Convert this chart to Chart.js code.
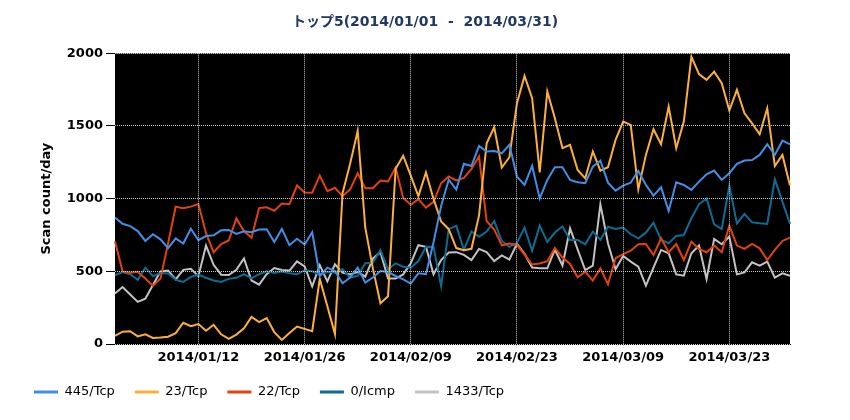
<!DOCTYPE html>
<html>
<head>
<meta charset="utf-8">
<script src="https://cdn.jsdelivr.net/npm/chart.js@4/dist/chart.umd.min.js"></script>
<style>
  html, body { margin: 0; padding: 0; background: #ffffff; }
  #wrap { width: 850px; height: 420px; }
</style>
</head>
<body>
<div id="wrap"><canvas id="c" width="850" height="420"></canvas></div>
<script>
// ---- data ----
const startDate = '2014/01/01';
const endDate = '2014/03/31';
const dates = [];
for (let d = new Date(Date.UTC(2014, 0, 1)); d <= new Date(Date.UTC(2014, 2, 31)); d.setUTCDate(d.getUTCDate() + 1)) {
  const m = String(d.getUTCMonth() + 1).padStart(2, '0');
  const dd = String(d.getUTCDate()).padStart(2, '0');
  dates.push(d.getUTCFullYear() + '/' + m + '/' + dd);
}
const xTickLabels = ['2014/01/12', '2014/01/26', '2014/02/09', '2014/02/23', '2014/03/09', '2014/03/23'];
const yTicks = [0, 500, 1000, 1500, 2000];

const seriesNames = ['445/Tcp', '23/Tcp', '22/Tcp', '0/Icmp', '1433/Tcp'];

const tcp445 = [870, 827, 811, 777, 709, 755, 720, 659, 727, 691,
  793, 714, 743, 748, 782, 785, 758, 776, 769, 788,
  790, 701, 792, 680, 724, 685, 769, 468, 525, 502,
  418, 457, 525, 422, 457, 502, 495, 468, 445, 416,
  486, 480, 700, 950, 1130, 1062, 1240, 1225, 1363, 1324,
  1328, 1312, 1370, 1152, 1094, 1225, 1002, 1129, 1216, 1216,
  1129, 1113, 1106, 1220, 1262, 1110, 1055, 1090, 1110, 1190,
  1094, 1021, 1078, 915, 1113, 1094, 1060, 1117, 1168, 1193,
  1129, 1175, 1239, 1262, 1266, 1301, 1374, 1301, 1399, 1374];

const tcp23 = [56, 85, 88, 52, 67, 42, 45, 50, 75, 146,
  122, 137, 91, 132, 67, 35, 65, 108, 186, 150,
  178, 82, 28, 75, 120, 104, 88, 448, 260, 68,
  1038, 1240, 1467, 800, 520, 280, 328, 1205, 1295, 1158,
  1017, 1180, 998, 843, 790, 660, 645, 655, 885, 1381,
  1491, 1214, 1285, 1656, 1844, 1691, 1181, 1737, 1553, 1347,
  1370, 1197, 1140, 1324, 1193, 1216, 1404, 1530, 1507, 1064,
  1301, 1477, 1374, 1633, 1347, 1530, 1977, 1857, 1817, 1874,
  1794, 1606, 1748, 1587, 1518, 1443, 1622, 1225, 1301, 1090];

const tcp22 = [705, 499, 490, 497, 450, 400, 450, 693, 944, 934,
  945, 963, 762, 631, 688, 712, 864, 777, 731, 935,
  940, 916, 967, 962, 1090, 1043, 1041, 1158, 1051, 1075,
  1017, 1064, 1175, 1072, 1072, 1124, 1118, 1215, 1004, 958,
  997, 938, 978, 1106, 1152, 1125, 1143, 1205, 1290, 845,
  787, 679, 691, 681, 615, 547, 554, 570, 661, 595,
  551, 459, 498, 436, 521, 411, 590, 619, 642, 686,
  688, 612, 727, 631, 688, 578, 704, 654, 631, 677,
  631, 814, 677, 654, 688, 658, 578, 647, 709, 732];

const icmp0 = [473, 495, 480, 442, 525, 467, 488, 485, 442, 427,
  462, 477, 456, 437, 427, 448, 455, 480, 452, 480,
  500, 489, 498, 486, 480, 506, 500, 475, 497, 491,
  514, 457, 468, 555, 559, 646, 514, 555, 532, 525,
  571, 669, 668, 398, 790, 813, 650, 774, 737, 774,
  845, 709, 668, 696, 801, 641, 815, 702, 767, 808,
  716, 716, 686, 773, 716, 807, 791, 801, 755, 727,
  766, 835, 716, 693, 743, 750, 865, 961, 1002, 824,
  791, 1090, 830, 895, 837, 830, 826, 1133, 980, 826];

const tcp1433 = [347, 392, 341, 290, 312, 406, 499, 506, 444, 510,
  517, 467, 677, 545, 477, 474, 511, 589, 437, 408,
  480, 523, 509, 505, 569, 534, 397, 543, 431, 548,
  491, 479, 495, 463, 587, 632, 450, 450, 479, 555,
  680, 669, 479, 578, 630, 632, 613, 577, 654, 633,
  570, 609, 581, 691, 621, 526, 521, 521, 650, 540,
  796, 650, 509, 539, 961, 693, 514, 606, 567, 532,
  401, 525, 647, 624, 479, 470, 624, 677, 447, 723,
  686, 739, 479, 493, 562, 539, 567, 457, 486, 470];

const seriesValues = [tcp445, tcp23, tcp22, icmp0, tcp1433];
const seriesColors = ['#428ee6', '#fbb03b', '#e2420f', '#0e6b91', '#c3c3c3'];

// ---- chart ----
const FONT = 'DejaVu Sans';
const gridColor = '#c8c8c8';
const shownX = (i) => xTickLabels.includes(dates[i]);

const plotBg = {
  id: 'plotBg',
  beforeDraw(chart) {
    const a = chart.chartArea;
    const ctx = chart.ctx;
    ctx.save();
    ctx.fillStyle = '#000000';
    ctx.fillRect(a.left, a.top, a.right - a.left, a.bottom - a.top);
    ctx.restore();
  },
  afterDraw(chart) {
    // dotted grid on the plot area, positioned by the chart's own scales
    const a = chart.chartArea;
    const ctx = chart.ctx;
    const xs = chart.scales.x, ys = chart.scales.y;
    ctx.save();
    ctx.lineWidth = 1;
    ctx.strokeStyle = gridColor;
    ctx.setLineDash([1, 1]);
    ys.ticks.forEach(t => {
      const y = Math.round(ys.getPixelForValue(t.value) - 0.5) + 0.5;
      ctx.beginPath();
      ctx.moveTo(a.left, y);
      ctx.lineTo(a.right, y);
      ctx.stroke();
    });
    xs.ticks.forEach((t, i) => {
      if (!shownX(i)) return;
      const x = Math.round(xs.getPixelForTick(i) - 0.5) + 0.5;
      ctx.beginPath();
      ctx.moveTo(x, a.top);
      ctx.lineTo(x, a.bottom);
      ctx.stroke();
    });
    ctx.restore();
  }
};

new Chart(document.getElementById('c'), {
  type: 'line',
  data: {
    labels: dates,
    datasets: seriesNames.map((name, k) => ({
      label: name,
      data: seriesValues[k],
      borderColor: seriesColors[k],
      backgroundColor: seriesColors[k],
      borderWidth: 2,
      pointRadius: 0,
      pointHoverRadius: 0,
      tension: 0,
      fill: false
    }))
  },
  options: {
    responsive: false,
    animation: false,
    devicePixelRatio: 1,
    layout: { padding: { left: 14, right: 14, top: 0, bottom: 11.5 } },
    plugins: {
      title: {
        display: true,
        text: 'トップ5(' + startDate + '  -  ' + endDate + ')',
        color: '#1f3864',
        font: { family: FONT + ', "Noto Sans CJK JP"', size: 14, weight: 'bold', lineHeight: 1.2 },
        padding: { top: 13.6, bottom: 22.9 }
      },
      legend: {
        display: true,
        position: 'bottom',
        align: 'start',
        labels: {
          usePointStyle: true,
          pointStyle: 'line',
          pointStyleWidth: 24,
          padding: 20,
          color: '#000000',
          font: { family: FONT, size: 13 },
          generateLabels(chart) {
            const items = Chart.defaults.plugins.legend.labels.generateLabels(chart);
            items.forEach(it => { it.lineWidth = 3; it.pointStyle = 'line'; });
            return items;
          }
        }
      },
      tooltip: { enabled: false }
    },
    scales: {
      x: {
        type: 'category',
        offset: false,
        afterFit(scale) { scale.height = 21.5; },
        border: { display: true, color: '#000000' },
        grid: {
          drawOnChartArea: false,
          color: (c) => shownX(c.index) ? gridColor : 'rgba(0,0,0,0)',
          tickColor: (c) => shownX(c.index) ? gridColor : 'rgba(0,0,0,0)',
          tickBorderDash: [1, 1],
          tickLength: 5,
          lineWidth: 1
        },
        ticks: {
          autoSkip: false,
          maxRotation: 0,
          minRotation: 0,
          padding: 1,
          color: '#000000',
          font: { family: FONT, size: 13, weight: 'bold' },
          callback(value, index) { return shownX(index) ? dates[index] : ''; }
        }
      },
      y: {
        min: 0,
        max: 2000,
        afterFit(scale) { scale.width = 101; },
        afterBuildTicks(scale) { scale.ticks = yTicks.map(v => ({ value: v })); },
        border: { display: true, color: '#000000' },
        grid: {
          drawOnChartArea: false,
          color: '#000000',
          tickColor: '#000000',
          tickBorderDash: [],
          tickLength: 9,
          lineWidth: 1
        },
        ticks: {
          padding: 3,
          color: '#000000',
          font: { family: FONT, size: 13, weight: 'bold' },
          callback(value) { return String(value); }
        },
        title: {
          display: true,
          text: 'Scan count/day',
          color: '#000000',
          font: { family: FONT, size: 13, weight: 'bold', lineHeight: 1.2 },
          padding: { top: 25, bottom: 0 }
        }
      },
      yRightSpace: {
        type: 'linear',
        position: 'right',
        min: 0,
        max: 2000,
        afterFit(scale) { scale.width = 46; },
        border: { display: false },
        grid: { display: false, drawOnChartArea: false, drawTicks: false },
        ticks: { display: false }
      }
    }
  },
  plugins: [plotBg]
});
</script>
</body>
</html>
